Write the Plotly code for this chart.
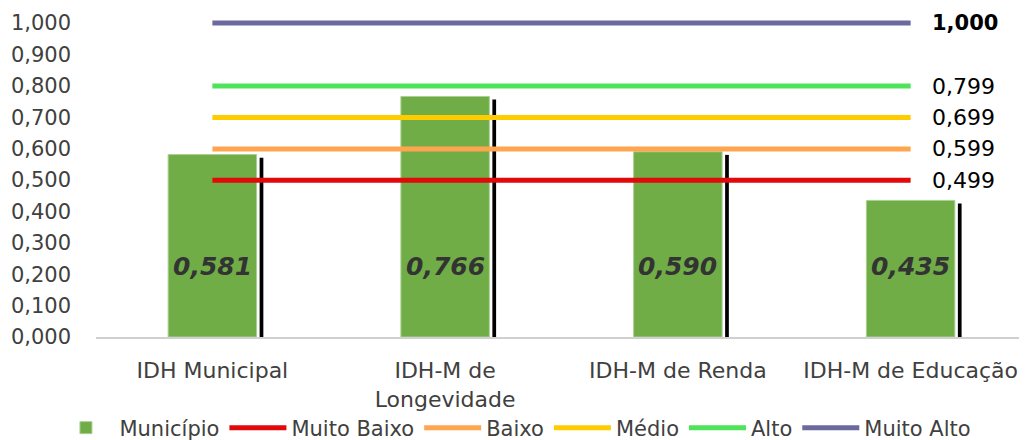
import plotly.graph_objects as go

categories = ["IDH Municipal", "IDH-M de<br>Longevidade", "IDH-M de Renda", "IDH-M de Educação"]
municipio = [0.581, 0.766, 0.590, 0.435]
level_names = ["Muito Baixo", "Baixo", "Médio", "Alto", "Muito Alto"]
level_values = [0.499, 0.599, 0.699, 0.799, 1.000]
level_colors = ["#E00A0A", "#FFA54F", "#FFCC00", "#4FE35A", "#6B6A9F"]

FONT = "DejaVu Sans"
TXT = "#404040"

fig = go.Figure()
fig.add_trace(go.Bar(
    x=categories, y=municipio, name="Município",
    marker=dict(color="#70AD47", line=dict(color="#A9CF90", width=1)),
    width=0.38,
))
# shadow strip on the right of each bar
fig.add_trace(go.Bar(
    x=categories, y=[v - 0.01 for v in municipio], showlegend=False,
    marker=dict(color="black", line=dict(width=0)),
    width=0.016, offset=0.203, hoverinfo="skip",
))
for name, val, col in zip(level_names, level_values, level_colors):
    fig.add_trace(go.Scatter(
        x=categories, y=[val] * len(categories), mode="lines", name=name,
        line=dict(color=col, width=5),
    ))
    fig.add_annotation(
        x=categories[-1], y=val, text=f"{val:.3f}".replace(".", ","),
        xanchor="left", yanchor="middle", xshift=19, showarrow=False,
        font=dict(family=FONT, size=21 if val >= 1.0 else 22, color="black",
                  weight="bold" if val >= 1.0 else "normal"),
    )
for c, v in zip(categories, municipio):
    fig.add_annotation(
        x=c, y=0.223, text=f"{v:.3f}".replace(".", ","), showarrow=False,
        font=dict(family=FONT, size=25, color="#333333", weight="bold", style="italic"),
    )

# page body adds an 8px margin, so the figure is 8px smaller than the window
fig.update_layout(
    width=1019, height=432,
    margin=dict(l=88, r=0, t=7, b=103, autoexpand=False),
    paper_bgcolor="white", plot_bgcolor="white",
    barmode="overlay",
    separators=",.",
    font=dict(family=FONT, size=21, color=TXT),
    showlegend=True,
    legend=dict(orientation="h", xref="container", yref="container",
                x=0.497, xanchor="center", y=0.0278, yanchor="middle",
                bgcolor="rgba(0,0,0,0)",
                font=dict(size=21, color=TXT), traceorder="normal", itemwidth=57),
    xaxis=dict(range=[-0.5, 3.5], automargin=False,
               showline=True, linecolor="#D0D0D0", linewidth=2, ticks="",
               showgrid=False, ticklabelstandoff=13, tickfont=dict(size=22, color=TXT)),
    yaxis=dict(range=[0, 1.0255], automargin=False,
               tickvals=[i / 10 for i in range(11)], tickformat=".3f",
               showgrid=False, zeroline=False, showline=False, ticks="",
               ticklabelstandoff=24, tickfont=dict(size=21, color=TXT)),
)
fig.write_html("out.html")
